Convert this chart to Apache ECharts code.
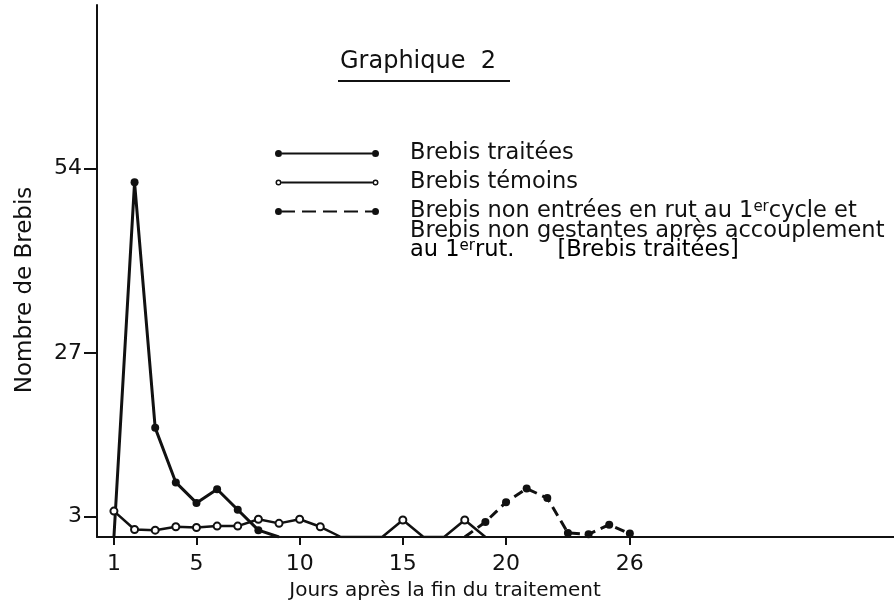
<!DOCTYPE html>
<html>
<head>
<meta charset="utf-8">
<title>Graphique 2</title>
<script src="https://cdn.jsdelivr.net/npm/echarts@6/dist/echarts.min.js"></script>
<style>
  html, body { margin: 0; padding: 0; background: #fff; }
  #chart { width: 894px; height: 608px; }
</style>
</head>
<body>
<div id="chart"></div>
<script>
// Brebis traitées
var joursTraitees = [1, 2, 3, 4, 5, 6, 7, 8, 9];
var brebisTraitees = [0, 52, 16, 8, 5, 7, 4, 1, 0];

// Brebis témoins
var joursTemoins = [1, 2, 3, 4, 5, 6, 7, 8, 9, 10, 11, 12, 13, 14, 15, 16, 17, 18, 19];
var brebisTemoins = [3.8, 1.1, 1, 1.5, 1.4, 1.6, 1.6, 2.6, 2, 2.6, 1.5, 0, 0, 0, 2.5, 0, 0, 2.5, 0];

// Brebis non entrées en rut / non gestantes (traitées)
var joursNonEntrees = [18, 19, 20, 21, 22, 23, 24, 25, 26];
var brebisNonEntrees = [0, 2.2, 5.1, 7.1, 5.7, 0.6, 0.4, 1.8, 0.5];

var xTicks = [1, 5, 10, 15, 20, 26];
var yTicks = [3, 27, 54];

var seriesNames = [
  "Brebis traitées",
  "Brebis témoins",
  "Brebis non entrées en rut au 1er cycle et Brebis non gestantes après accouplement au 1er rut. [Brebis traitées]"
];

var police = '"DejaVu Sans", sans-serif';
var noir = "#111";

// icones de legende : point - trait - point
var iconPlein = "path://M0,3.5A3.5,3.5,0,1,1,7,3.5A3.5,3.5,0,1,1,0,3.5ZM7,2.5L97,2.5L97,4.5L7,4.5Z" +
  "M97,3.5A3.5,3.5,0,1,1,104,3.5A3.5,3.5,0,1,1,97,3.5Z";
var iconVide = "path://M0.5,3.5A3,3,0,1,1,6.5,3.5A3,3,0,1,1,0.5,3.5ZM2,3.5A1.5,1.5,0,1,0,5,3.5A1.5,1.5,0,1,0,2,3.5Z" +
  "M6.5,2.6L97.5,2.6L97.5,4.4L6.5,4.4Z" +
  "M97.5,3.5A3,3,0,1,1,103.5,3.5A3,3,0,1,1,97.5,3.5ZM99,3.5A1.5,1.5,0,1,0,102,3.5A1.5,1.5,0,1,0,99,3.5Z" +
  "M0,3.5L0,3.5M104,3.5L104,3.5M0,0L0,0M0,7L0,7";
var iconTirets = "path://M0,3.5A3.5,3.5,0,1,1,7,3.5A3.5,3.5,0,1,1,0,3.5ZM7,2.5L20,2.5L20,4.5L7,4.5Z" +
  "M27,2.5L41,2.5L41,4.5L27,4.5ZM48,2.5L62,2.5L62,4.5L48,4.5ZM69,2.5L83,2.5L83,4.5L69,4.5Z" +
  "M90,2.5L97,2.5L97,4.5L90,4.5ZM97,3.5A3.5,3.5,0,1,1,104,3.5A3.5,3.5,0,1,1,97,3.5Z";

function points(jours, valeurs) {
  return jours.map(function(j, i) {
    var item = { value: [j, valeurs[i]] };
    if (valeurs[i] === 0) item.symbol = "none"; // pas de point sur l'axe
    return item;
  });
}

var chart = echarts.init(document.getElementById("chart"));

var sup = { fontSize: 15, fontFamily: police, color: noir, verticalAlign: "top", lineHeight: 13 };
var norm = { fontSize: 22.5, fontFamily: police, color: noir, lineHeight: 23 };

chart.setOption({
  animation: false,
  backgroundColor: "#fff",
  title: {
    text: "Graphique  2",
    left: 340,
    top: 50,
    padding: 0,
    textStyle: { fontFamily: police, fontSize: 24, fontWeight: "normal", color: noir }
  },
  legend: {
    orient: "vertical",
    left: 275,
    top: 142,
    padding: 0,
    itemGap: 6,
    itemWidth: 104,
    itemHeight: 7,
    selectedMode: false,
    itemStyle: { color: noir, borderWidth: 0 },
    textStyle: {
      fontFamily: police,
      fontSize: 22.5,
      color: noir,
      lineHeight: 23,
      padding: [0, 0, 0, 26],
      rich: { a: norm, s: sup }
    },
    formatter: function(name) {
      if (name === seriesNames[2]) {
        return "{a|Brebis non entrées en rut au 1}{s|er}{a|cycle et}";
      }
      return name;
    },
    data: [
      { name: seriesNames[0], icon: iconPlein },
      { name: seriesNames[1], icon: iconVide },
      { name: seriesNames[2], icon: iconTirets }
    ]
  },
  graphic: [
    {
      // soulignement du titre
      type: "line",
      shape: { x1: 338, y1: 81, x2: 510, y2: 81 },
      style: { stroke: noir, lineWidth: 2 }
    },
    {
      type: "text",
      x: 410,
      y: 231,
      style: {
        text: "Brebis non gestantes après accouplement",
        fontFamily: police,
        fontSize: 22.5,
        fill: noir,
        verticalAlign: "middle"
      }
    },
    {
      type: "text",
      x: 410,
      y: 250,
      style: {
        text: "{a|au 1}{s|er}{a|rut.}{g|}{a|[Brebis traitées]}",
        verticalAlign: "middle",
        rich: { a: norm, s: sup, g: { width: 43 } }
      }
    }
  ],
  grid: { left: 97, right: 0, top: 5, bottom: 71 },
  xAxis: {
    type: "value",
    min: 0.18,
    max: 38.8,
    name: "Jours après la fin du traitement",
    nameLocation: "middle",
    nameGap: 44,
    nameTextStyle: { fontFamily: police, fontSize: 20, color: noir, padding: [0, 101, 0, 0] },
    axisLine: { lineStyle: { color: noir, width: 2 } },
    axisTick: { customValues: xTicks, length: 8, lineStyle: { color: noir, width: 2 } },
    axisLabel: { customValues: xTicks, margin: 16, fontFamily: police, fontSize: 22, color: noir },
    splitLine: { show: false }
  },
  yAxis: {
    type: "value",
    min: 0,
    max: 78,
    name: "Nombre de Brebis",
    nameLocation: "middle",
    nameRotate: 90,
    nameGap: 60,
    nameTextStyle: { fontFamily: police, fontSize: 23, color: noir, padding: [0, 38, 0, 0] },
    axisLine: { show: true, lineStyle: { color: noir, width: 2 } },
    axisTick: { show: true, customValues: yTicks, length: 13, lineStyle: { color: noir, width: 2 } },
    axisLabel: { customValues: yTicks, margin: 15, fontFamily: police, fontSize: 22, color: noir },
    splitLine: { show: false }
  },
  series: [
    {
      name: seriesNames[0],
      type: "line",
      symbol: "circle",
      symbolSize: 8,
      itemStyle: { color: noir, borderWidth: 0 },
      lineStyle: { color: noir, width: 3 },
      data: points(joursTraitees, brebisTraitees)
    },
    {
      name: seriesNames[1],
      type: "line",
      symbol: "emptyCircle",
      symbolSize: 7,
      itemStyle: { color: noir, borderWidth: 2 },
      lineStyle: { color: noir, width: 2.5 },
      data: points(joursTemoins, brebisTemoins)
    },
    {
      name: seriesNames[2],
      type: "line",
      symbol: "circle",
      symbolSize: 8,
      itemStyle: { color: noir, borderWidth: 0 },
      lineStyle: { color: noir, width: 3, type: [10, 6] },
      data: points(joursNonEntrees, brebisNonEntrees)
    }
  ]
});
</script>
</body>
</html>
